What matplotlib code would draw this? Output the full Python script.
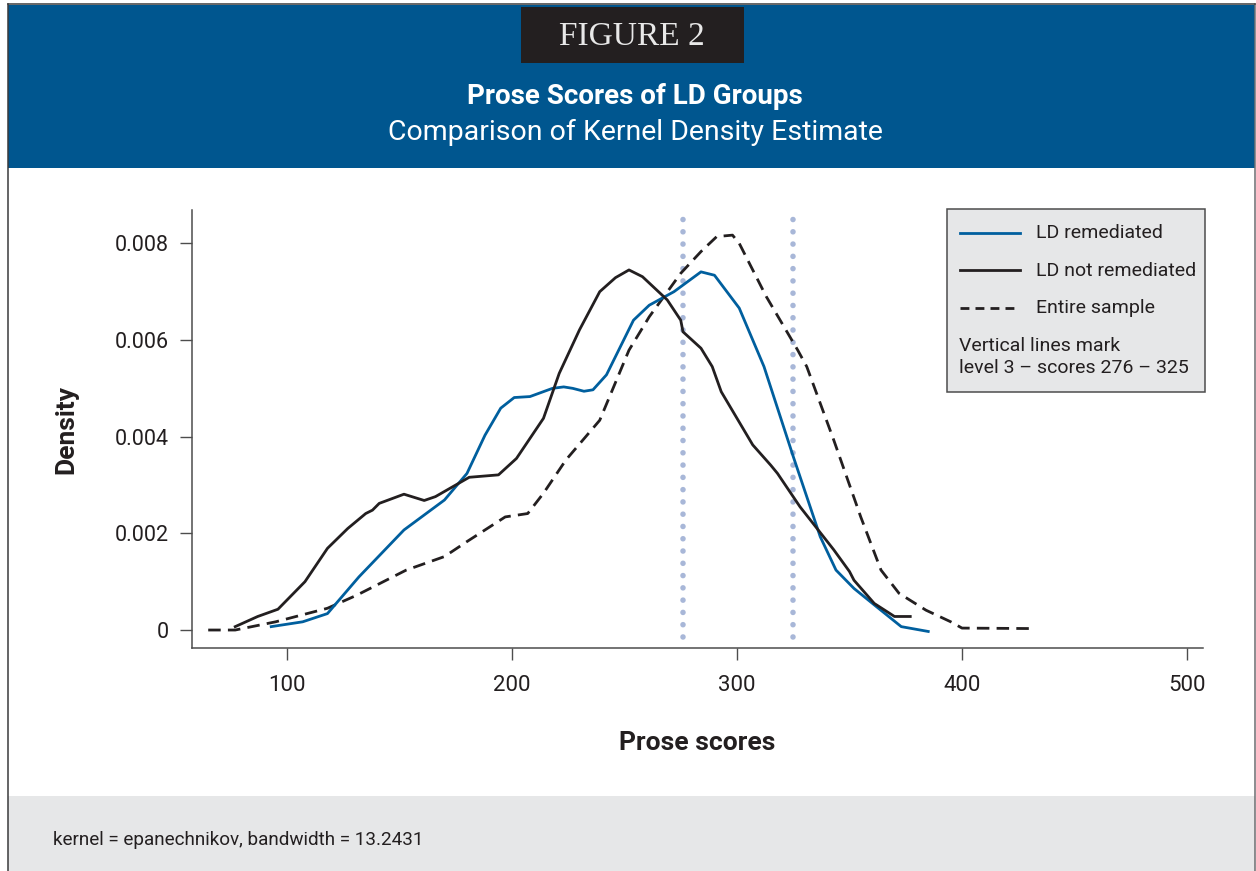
import matplotlib
matplotlib.use("Agg")
import matplotlib.pyplot as plt
from matplotlib.patches import Rectangle
from matplotlib.lines import Line2D

# Kernel density curves (score, density)
remediated_x = [93, 107, 118, 132, 152, 170, 180, 188, 195, 201, 208, 218, 223, 227, 232, 236,
                242, 254, 261, 272, 284, 290, 301, 312, 325, 337, 344, 352, 361, 373, 385]
remediated_y = [0.00007, 0.00017, 0.00034, 0.0011, 0.00207, 0.00269, 0.00324, 0.00403, 0.00459,
                0.00481, 0.00483, 0.0050, 0.00503, 0.0050, 0.00494, 0.00497, 0.00528, 0.00641,
                0.00672, 0.0070, 0.00741, 0.00734, 0.00666, 0.00545, 0.00359, 0.00193, 0.00124,
                0.00086, 0.00052, 0.00007, -0.00003]

not_remediated_x = [77, 87, 96, 108, 118, 127, 135, 138, 141, 152, 161, 166, 181, 194, 202, 214,
                    221, 230, 239, 246, 252, 258, 269, 275, 276, 284, 289, 293, 307, 315, 318, 328,
                    343, 350, 352, 361, 370, 377]
not_remediated_y = [0.00007, 0.00028, 0.00043, 0.0010, 0.00169, 0.0021, 0.00241, 0.00248, 0.00262,
                    0.00281, 0.00268, 0.00276, 0.00316, 0.00321, 0.00355, 0.00438, 0.00531, 0.00621,
                    0.0070, 0.00729, 0.00745, 0.00731, 0.00683, 0.00641, 0.00617, 0.00583, 0.00545,
                    0.00493, 0.00383, 0.00341, 0.00324, 0.00255, 0.00166, 0.00121, 0.00103, 0.00055,
                    0.00028, 0.00028]

entire_x = [65, 77, 95, 118, 131, 153, 170, 180, 197, 207, 214, 224, 239, 252, 261, 275, 284, 291,
            298, 301, 313, 327, 331, 343, 355, 364, 372, 384, 395, 400, 432]
entire_y = [0, 0, 0.00017, 0.00045, 0.00072, 0.00124, 0.00152, 0.00183, 0.00234, 0.00241, 0.00283,
            0.00352, 0.00434, 0.00579, 0.00648, 0.00738, 0.00783, 0.00814, 0.00817, 0.0080, 0.0069,
            0.00579, 0.00545, 0.00393, 0.00234, 0.00124, 0.00076, 0.00041, 0.00017, 0.00004, 0.00003]

level3_bounds = [276, 325]

x_ticks = [100, 200, 300, 400, 500]
y_ticks = [0, 0.002, 0.004, 0.006, 0.008]
y_tick_labels = ["0", "0.002", "0.004", "0.006", "0.008"]

legend_labels = ["LD remediated", "LD not remediated", "Entire sample"]
note_lines = ["Vertical lines mark", "level 3 \u2013 scores 276 \u2013 325"]
footer_text = "kernel = epanechnikov, bandwidth = 13.2431"

blueColor = "#00568f"
lineBlue = "#005f9e"
inkColor = "#231f20"
grayPanel = "#e6e7e8"
frameColor = "#6d6e71"
dotColor = "#a8b7d8"

plt.rcParams["font.family"] = ["Roboto", "DejaVu Sans"]

W, H = 1256, 871
fig = plt.figure(figsize=(W / 100, H / 100), dpi=100)
fig.set_facecolor("white")


def fx(px):
    return px / W


def fy(py):
    return 1 - py / H


def box(x0, y0, x1, y1, **kw):
    fig.add_artist(Rectangle((fx(x0), fy(y1)), fx(x1) - fx(x0), fy(y0) - fy(y1),
                             transform=fig.transFigure, **kw))


# header, footer and outer frame
box(8, 5, 1255, 168, facecolor=blueColor, edgecolor="none")
box(521, 7, 744, 63, facecolor=inkColor, edgecolor="none")
box(8, 796, 1255, 871, facecolor=grayPanel, edgecolor="none")
for xs, ys, c in [([7.5, 7.5], [4, 871], "#3a3a3c"), ([1255, 1255], [4, 871], frameColor),
                  ([7.5, 1255], [4.5, 4.5], "#3a3a3c")]:
    fig.add_artist(Line2D([fx(v) for v in xs], [fy(v) for v in ys], color=c,
                          lw=1.1, transform=fig.transFigure))

fig.text(fx(632), fy(37), "FIGURE 2", color="#e8e8e8", fontsize=24,
         family=["Liberation Serif", "DejaVu Serif"], ha="center", va="center")
fig.text(fx(635), fy(96), "Prose Scores of LD Groups", color="white", fontsize=20,
         fontweight="bold", ha="center", va="center")
fig.text(fx(635), fy(132), "Comparison of Kernel Density Estimate", color="white", fontsize=20.5,
         ha="center", va="center")
fig.text(fx(53), fy(840), footer_text, color=inkColor, fontsize=13.6, ha="left", va="center")

# density plot
ax = fig.add_axes([fx(192), fy(648), fx(1203) - fx(192), fy(210) - fy(648)])
ax.set_xlim(57.8, 507.1)
ax.set_ylim(-0.000372, 0.00869)

for b in level3_bounds:
    ax.plot([b, b], [-0.000145, 0.00865], color=dotColor, lw=4,
            linestyle=(0, (0.01, 2.2)), dash_capstyle="round", zorder=1)

ax.plot(remediated_x, remediated_y, color=lineBlue, lw=2, zorder=3)
ax.plot(not_remediated_x, not_remediated_y, color=inkColor, lw=2, zorder=3)
ax.plot(entire_x, entire_y, color=inkColor, lw=2, linestyle=(0, (4.5, 2.6)), zorder=2)

for side in ["top", "right"]:
    ax.spines[side].set_visible(False)
for side in ["left", "bottom"]:
    ax.spines[side].set_color("#4d4d4d")
    ax.spines[side].set_linewidth(1.1)

ax.set_xticks(x_ticks)
ax.set_xticklabels([str(t) for t in x_ticks])
ax.set_yticks(y_ticks)
ax.set_yticklabels(y_tick_labels)
ax.tick_params(axis="both", length=8.6, width=1.0, color="#4d4d4d", labelcolor=inkColor,
               labelsize=16)
ax.tick_params(axis="x", pad=11)
ax.tick_params(axis="y", pad=8, labelsize=15.5)

ax.set_ylabel("Density", fontsize=19, fontweight="bold", color=inkColor, labelpad=26)
ax.set_xlabel("Prose scores", fontsize=19, fontweight="bold", color=inkColor, labelpad=25)

# legend panel
box(947, 209, 1205, 392, facecolor=grayPanel, edgecolor="#4d4d4d", linewidth=1.1)
styles = [dict(color=lineBlue), dict(color=inkColor), dict(color=inkColor, linestyle=(0, (3.2, 2.2)))]
for i, (label, st) in enumerate(zip(legend_labels, styles)):
    yy = 233 + i * 37.5
    fig.add_artist(Line2D([fx(960), fx(1020)], [fy(yy), fy(yy)], lw=2,
                          transform=fig.transFigure, **st))
    fig.text(fx(1036), fy(yy), label, color=inkColor, fontsize=14, ha="left", va="center")
for i, line in enumerate(note_lines):
    fig.text(fx(959), fy(346 + i * 22), line, color=inkColor, fontsize=14, ha="left", va="center")

fig.savefig("out.png", dpi=100, facecolor=fig.get_facecolor())
